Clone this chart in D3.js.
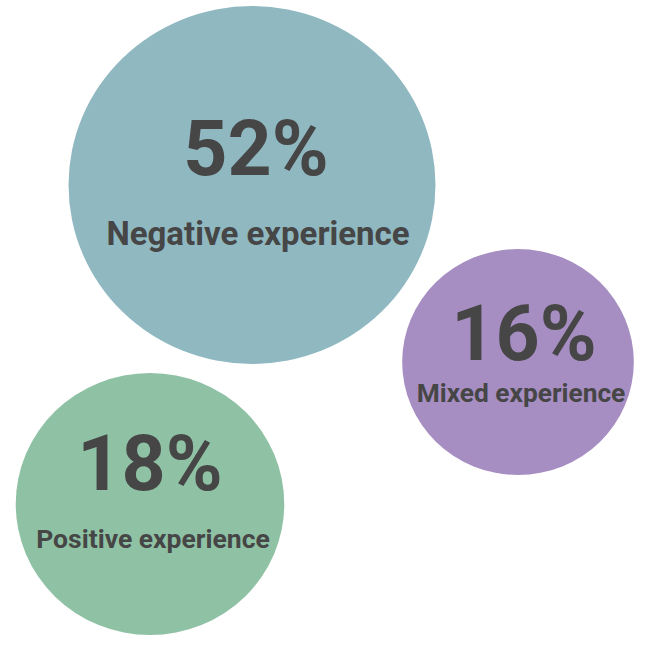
<!DOCTYPE html>
<html>
<head>
<meta charset="utf-8">
<script src="https://cdn.jsdelivr.net/npm/d3@7"></script>
<style>
  html, body { margin: 0; padding: 0; background: #fff; }
  svg { display: block; }
</style>
</head>
<body>
<svg id="chart" width="646" height="645"></svg>
<script>
// ---- data ----
const categories = ["Negative experience", "Mixed experience", "Positive experience"];
const values = [52, 16, 18];

// ---- layout (positions / sizes / styles, not data) ----
const centers = [[252, 185], [518, 362], [150, 504]];
const valueOffsets = [[4, -10], [6, -2], [0, -14]];
const labelOffsets = [[6, 60], [3, 40], [3, 44]];
const labelSizes = [33, 26.3, 26.5];
const colors = ["#8fb8c1", "#a78ec2", "#8fc2a5"];
const aspect = 1.025;

const rScale = d3.scaleLinear().domain([16, 18, 52]).range([113, 131, 179]);

const svg = d3.select("#chart");
const data = categories.map((c, i) => ({ category: c, value: values[i], i }));

const g = svg.selectAll("g.bubble").data(data).join("g")
  .attr("class", "bubble")
  .attr("transform", d => `translate(${centers[d.i][0]},${centers[d.i][1]})`);

g.append("ellipse")
  .attr("rx", d => rScale(d.value) * aspect)
  .attr("ry", d => rScale(d.value))
  .attr("fill", d => colors[d.i]);

g.append("text")
  .attr("x", d => valueOffsets[d.i][0])
  .attr("y", d => valueOffsets[d.i][1])
  .attr("text-anchor", "middle")
  .attr("font-family", "Roboto, sans-serif")
  .attr("font-weight", 700)
  .attr("font-size", 77)
  .attr("fill", "#464646")
  .text(d => d.value + "%");

g.append("text")
  .attr("x", d => labelOffsets[d.i][0])
  .attr("y", d => labelOffsets[d.i][1])
  .attr("text-anchor", "middle")
  .attr("font-family", "Roboto, sans-serif")
  .attr("font-weight", 700)
  .attr("font-size", d => labelSizes[d.i])
  .attr("fill", "#464646")
  .text(d => d.category);
</script>
</body>
</html>
